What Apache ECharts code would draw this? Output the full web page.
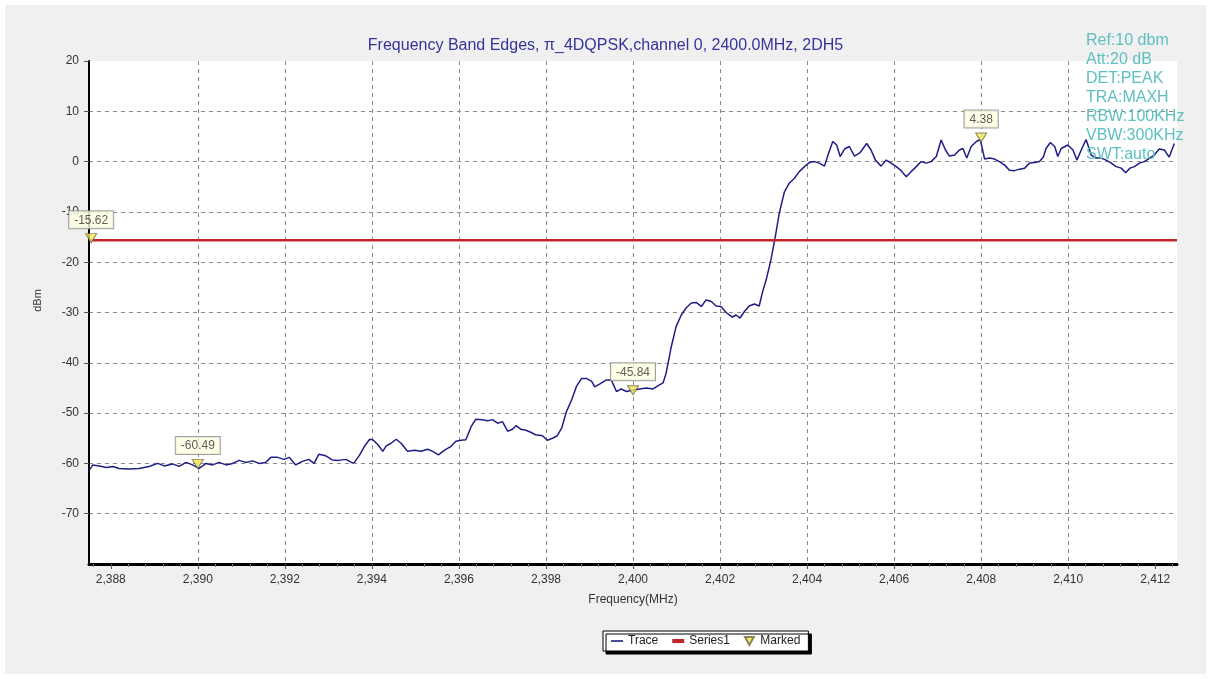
<!DOCTYPE html>
<html>
<head>
<meta charset="utf-8">
<script src="https://cdn.jsdelivr.net/npm/echarts@6/dist/echarts.min.js"></script>
<style>
html,body{margin:0;padding:0;background:#fff;}
#chart{position:absolute;left:0;top:0;width:1211px;height:679px;background:#f0f0f0;box-shadow:inset 0 0 0 5px #fff;}
</style>
</head>
<body>
<div id="chart"></div>
<script>
// ---- Data ----
const traceFreq = [
2387.51,2387.59,2387.74,2387.90,2388.05,2388.19,2388.42,2388.65,2388.88,2389.08,
2389.23,2389.42,2389.57,2389.73,2389.88,2390.03,2390.19,2390.34,2390.49,2390.65,
2390.80,2390.95,2391.10,2391.26,2391.41,2391.56,2391.68,2391.83,2391.98,2392.10,
2392.25,2392.40,2392.55,2392.67,2392.78,2392.94,2393.09,2393.24,2393.40,2393.55,
2393.60,2393.72,2393.83,2393.95,2394.02,2394.14,2394.25,2394.33,2394.44,2394.56,
2394.67,2394.82,2394.98,2395.13,2395.28,2395.40,2395.53,2395.66,2395.82,2395.93,
2396.05,2396.16,2396.28,2396.39,2396.54,2396.66,2396.77,2396.89,2397.00,2397.12,
2397.23,2397.31,2397.42,2397.54,2397.65,2397.76,2397.92,2398.03,2398.15,2398.26,
2398.36,2398.47,2398.59,2398.70,2398.82,2398.93,2399.05,2399.12,2399.24,2399.39,
2399.50,2399.62,2399.73,2399.85,2400.00,2400.15,2400.31,2400.46,2400.57,2400.69,
2400.76,2400.88,2400.99,2401.11,2401.22,2401.34,2401.45,2401.57,2401.68,2401.80,
2401.91,2402.02,2402.14,2402.28,2402.37,2402.46,2402.56,2402.67,2402.79,2402.90,
2402.98,2403.06,2403.17,2403.27,2403.36,2403.48,2403.59,2403.71,2403.82,2403.94,
2404.05,2404.17,2404.28,2404.40,2404.48,2404.59,2404.68,2404.76,2404.86,2404.97,
2405.09,2405.22,2405.37,2405.47,2405.57,2405.70,2405.82,2405.93,2406.05,2406.16,
2406.28,2406.39,2406.51,2406.62,2406.74,2406.85,2406.97,2407.08,2407.18,2407.27,
2407.39,2407.50,2407.58,2407.67,2407.77,2407.89,2407.98,2408.08,2408.19,2408.31,
2408.42,2408.54,2408.65,2408.77,2408.88,2409.00,2409.11,2409.23,2409.34,2409.43,
2409.49,2409.59,2409.69,2409.76,2409.84,2409.99,2410.11,2410.20,2410.30,2410.41,
2410.53,2410.64,2410.76,2410.87,2410.99,2411.10,2411.22,2411.32,2411.42,2411.52,
2411.64,2411.75,2411.87,2411.98,2412.09,2412.21,2412.32,2412.44
];
const traceLevel = [
-61.3,-60.3,-60.5,-60.8,-60.6,-61.0,-61.1,-61.0,-60.6,-60.0,
-60.5,-60.1,-60.6,-59.8,-60.3,-61.0,-60.0,-60.3,-59.8,-60.3,
-60.0,-59.4,-59.8,-59.5,-60.0,-59.8,-58.8,-58.8,-59.2,-58.8,
-60.3,-59.6,-59.2,-60.0,-58.2,-58.5,-59.3,-59.4,-59.2,-59.9,
-59.8,-58.3,-56.6,-55.2,-55.3,-56.3,-57.6,-56.5,-56.0,-55.2,
-56.0,-57.6,-57.4,-57.6,-57.2,-57.6,-58.3,-57.4,-56.6,-55.6,
-55.4,-55.3,-52.7,-51.2,-51.3,-51.5,-51.3,-52.0,-51.7,-53.6,
-53.2,-52.5,-53.2,-53.4,-53.8,-54.3,-54.5,-55.4,-55.0,-54.5,
-53.0,-49.7,-47.4,-44.7,-43.1,-43.1,-43.7,-44.8,-44.2,-43.4,
-43.4,-45.7,-45.2,-45.7,-45.4,-45.2,-45.0,-45.2,-44.6,-44.0,
-42.1,-36.8,-32.8,-30.5,-29.1,-28.1,-28.0,-28.8,-27.5,-27.8,
-28.7,-28.8,-30.0,-30.9,-30.5,-31.1,-29.8,-28.7,-28.3,-28.7,
-25.8,-23.5,-19.5,-14.9,-10.3,-6.0,-4.3,-3.3,-2.0,-1.0,
-0.2,0.0,-0.3,-0.9,1.3,4.0,3.3,1.0,2.5,3.0,
1.1,1.8,3.6,2.3,0.3,-0.9,0.3,-0.3,-1.0,-1.8,
-3.0,-2.0,-1.0,0.0,-0.3,0.0,1.0,4.3,2.3,1.1,
1.3,2.3,2.6,0.7,3.0,4.0,4.4,0.5,0.7,0.5,
0.0,-0.7,-1.7,-1.8,-1.5,-1.3,-0.3,-0.2,0.0,0.9,
2.6,3.8,3.0,1.0,2.6,3.3,2.3,0.3,2.3,4.4,
1.3,0.7,0.7,0.3,-0.3,-1.0,-1.3,-2.2,-1.3,-1.0,
-0.3,0.0,0.7,1.3,2.5,2.3,0.9,3.6
];
const markerFreq = [2387.55, 2390.0, 2400.0, 2408.0];
const markerLevel = [-15.62, -60.49, -45.84, 4.38];
const limitLevel = -15.62;
const freqMin = 2387.5, freqMax = 2412.5;
const xTickValues = [2388,2390,2392,2394,2396,2398,2400,2402,2404,2406,2408,2410,2412];
const infoLines = ['Ref:10 dbm','Att:20 dB','DET:PEAK','TRA:MAXH','RBW:100KHz','VBW:300KHz','SWT:auto'];
const titleText = 'Frequency Band Edges, π_4DQPSK,channel 0, 2400.0MHz, 2DH5';

// ---- Chart ----
const FONT = 'Liberation Sans, Arial, sans-serif';
const chart = echarts.init(document.getElementById('chart'), null, {renderer:'canvas'});
const fmtX = v => {
  if (Math.abs(v - Math.round(v)) > 1e-6) return '';
  const s = String(Math.round(v));
  return s.replace(/(\d)(\d{3})$/, '$1,$2');
};
const option = {
  animation: false,
  backgroundColor: 'transparent',
  textStyle: {fontFamily: FONT},
  title: {
    text: titleText,
    left: 'center',
    top: 33,
    textStyle: {fontFamily: FONT, fontSize: 16, fontWeight: 'normal', color: '#34349a'}
  },
  legend: {
    left: 603, top: 631,
    data: [
      {name: 'Trace', icon: 'path://M0,0H12V1.6H0Z'},
      {name: 'Series1', icon: 'path://M0,0H7V2.4H0Z'},
      {name: 'Marked', icon: 'path://M0,0 L10,0 L5,9 Z'}
    ],
    itemWidth: 12, itemHeight: 8, itemGap: 14,
    padding: [4, 8],
    backgroundColor: '#fff',
    borderColor: '#000', borderWidth: 1,
    shadowColor: 'rgba(0,0,0,1)', shadowBlur: 0, shadowOffsetX: 3, shadowOffsetY: 3,
    textStyle: {fontFamily: FONT, fontSize: 12, color: '#222'}
  },
  grid: {
    left: 89, right: 34, top: 61, bottom: 115,
    containLabel: false,
    outerBoundsMode: 'none',
    show: true, backgroundColor: '#ffffff', borderWidth: 0
  },
  xAxis: {
    type: 'value',
    min: freqMin, max: freqMax,
    splitNumber: 12,
    name: 'Frequency(MHz)',
    nameLocation: 'middle',
    nameGap: 30,
    nameTextStyle: {fontFamily: FONT, fontSize: 12, color: '#333'},
    axisLine: {show: true, onZero: false, lineStyle: {color: '#000', width: 3}},
    axisTick: {show: true, length: 5, lineStyle: {color: '#555'}, customValues: xTickValues},
    minorTick: {show: true, splitNumber: 5, length: 3, lineStyle: {color: '#777'}},
    axisLabel: {customValues: xTickValues, formatter: fmtX, margin: 10, fontFamily: FONT, fontSize: 12, color: '#333'},
    splitLine: {show: true, showMinLine: false, showMaxLine: false, lineStyle: {color: '#8c8c8c', type: [4, 4], width: 1}}
  },
  yAxis: {
    type: 'value',
    min: -80, max: 20, interval: 10,
    name: 'dBm',
    nameLocation: 'middle',
    nameGap: 46,
    nameTextStyle: {fontFamily: FONT, fontSize: 11, color: '#333', padding: [0, 0, 0, 24]},
    axisLine: {show: true, onZero: false, lineStyle: {color: '#000', width: 2}},
    axisTick: {show: true, length: 5, lineStyle: {color: '#555'}},
    axisLabel: {showMinLabel: false, margin: 10, fontFamily: FONT, fontSize: 12, color: '#333'},
    splitLine: {show: true, showMinLine: false, showMaxLine: false, lineStyle: {color: '#8c8c8c', type: [4, 4], width: 1}}
  },
  series: [
    {
      name: 'Trace', type: 'line',
      data: traceFreq.map((f, i) => [f, traceLevel[i]]),
      symbol: 'none', showSymbol: false,
      lineStyle: {color: '#1e1e86', width: 1.5},
      itemStyle: {color: '#1e1e86'},
      z: 2
    },
    {
      name: 'Series1', type: 'line',
      data: [[freqMin, limitLevel], [freqMax, limitLevel]],
      symbol: 'none', showSymbol: false,
      lineStyle: {color: '#c0272b', width: 2.5},
      itemStyle: {color: '#c0272b'},
      z: 3
    },
    {
      name: 'Marked', type: 'scatter',
      data: markerFreq.map((f, i) => [f, markerLevel[i]]),
      symbol: 'path://M0,0 L10,0 L5,9 Z',
      symbolSize: [11, 9],
      symbolOffset: [0, -2],
      itemStyle: {color: '#f5e85a', borderColor: '#6b6b3a', borderWidth: 1},
      label: {
        show: true, position: 'top', distance: 5,
        formatter: p => p.value[1].toFixed(2),
        fontFamily: FONT, fontSize: 12, color: '#333',
        backgroundColor: '#ffffe4', borderColor: '#8a8a8a', borderWidth: 1,
        padding: [3, 5, 2, 5]
      },
      z: 5
    }
  ],
  graphic: [
    {
      type: 'text', left: 1086, top: 31, z: 100,
      style: {
        text: infoLines.join('\n'),
        font: '16px ' + FONT,
        fill: '#60c0c0',
        lineHeight: 19
      }
    }
  ]
};
chart.setOption(option);
</script>
</body>
</html>
